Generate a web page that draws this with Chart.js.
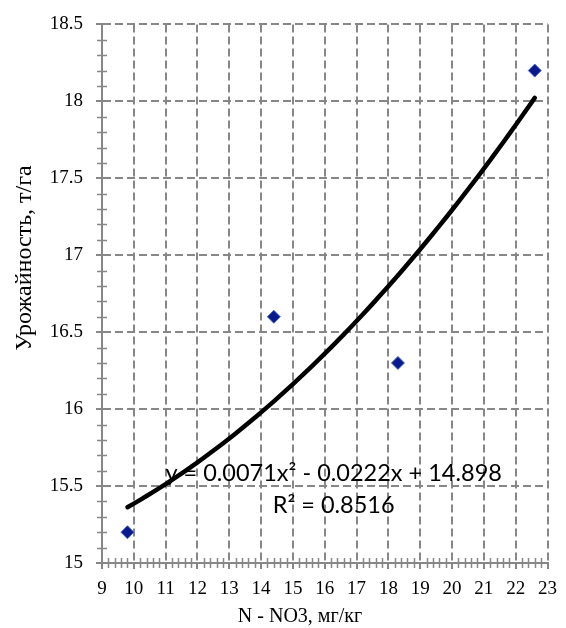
<!DOCTYPE html>
<html>
<head>
<meta charset="utf-8">
<script src="https://cdn.jsdelivr.net/npm/chart.js@4/dist/chart.umd.min.js"></script>
<style>
html, body { margin: 0; padding: 0; background: #fff; }
#wrap { width: 566px; height: 628px; }
</style>
</head>
<body>
<div id="wrap"><canvas id="chart" width="566" height="628"></canvas></div>
<script>
// measured points: nitrate content vs. yield
var nitrate = [9.8, 14.4, 18.3, 22.6];
var yieldT = [15.2, 16.6, 16.3, 18.2];
// polynomial trend, order 2: a*x^2 + b*x + c
var trendCoef = [0.0071, -0.0222, 14.898];
var trendText = ['y = 0.0071x² - 0.0222x + 14.898', 'R² = 0.8516'];
var xTitle = 'N - NO3, мг/кг';
var yTitle = 'Урожайность, т/га';

var gridColor = '#878787';
var serif = '"Liberation Serif", serif';

Chart.defaults.font.family = serif;
Chart.defaults.font.size = 19;
Chart.defaults.color = '#000';

// trend curve over the measured range
var trend = [];
var x0 = Math.min.apply(null, nitrate), x1 = Math.max.apply(null, nitrate);
for (var i = 0; i <= 64; i++) {
    var x = x0 + (x1 - x0) * i / 64;
    trend.push({x: x, y: trendCoef[0] * x * x + trendCoef[1] * x + trendCoef[2]});
}
var points = nitrate.map(function(v, k){ return {x: v, y: yieldT[k]}; });

// small cross ticks between the major ones, axis titles and the trend equation
var extras = {
    id: 'extras',
    afterDraw: function(chart){
        var ctx = chart.ctx, xs = chart.scales.x, ys = chart.scales.y, a = chart.chartArea;
        ctx.save();
        ctx.strokeStyle = gridColor;
        ctx.lineWidth = 1.5;
        ctx.beginPath();
        for (var v = 15; v < 18.5; v += 0.1) {
            if (Math.abs(v * 2 - Math.round(v * 2)) < 0.01) continue;
            var py = Math.round(ys.getPixelForValue(v)) + 0.5;
            ctx.moveTo(a.left - 5, py); ctx.lineTo(a.left + 5, py);
        }
        for (var u = 9; u < 23; u += 0.2) {
            if (Math.abs(u - Math.round(u)) < 0.01) continue;
            var px = Math.round(xs.getPixelForValue(u)) + 0.5;
            ctx.moveTo(px, a.bottom - 5); ctx.lineTo(px, a.bottom + 5);
        }
        ctx.stroke();

        ctx.fillStyle = '#000';
        ctx.textAlign = 'center';
        ctx.textBaseline = 'middle';
        ctx.font = '23.5px Lato, "Open Sans", sans-serif';
        var cx = xs.getPixelForValue(16.28);
        ctx.fillText(trendText[0], cx, ys.getPixelForValue(15.58));
        ctx.fillText(trendText[1], cx, ys.getPixelForValue(15.375));

        ctx.font = '20px ' + serif;
        ctx.fillText(xTitle, 300, 617);

        ctx.translate(25, 258);
        ctx.rotate(-Math.PI / 2);
        ctx.font = '24px ' + serif;
        ctx.fillText(yTitle, 0, 0);
        ctx.restore();
    }
};

var chart = new Chart(document.getElementById('chart').getContext('2d'), {
    type: 'scatter',
    data: {
        datasets: [{
            data: points,
            pointStyle: 'rectRot',
            pointRadius: 6.5,
            backgroundColor: '#0a1a8c',
            borderColor: '#4a64c8',
            borderWidth: 1,
            order: 1
        }, {
            data: trend,
            showLine: true,
            pointRadius: 0,
            borderColor: '#000',
            borderWidth: 4.5,
            borderCapStyle: 'round',
            borderJoinStyle: 'round',
            tension: 0,
            order: 2
        }]
    },
    options: {
        responsive: false,
        animation: false,
        devicePixelRatio: 1,
        layout: { padding: { left: 0, right: 10, top: 19, bottom: 0 } },
        plugins: { legend: { display: false }, tooltip: { enabled: false } },
        scales: {
            x: {
                type: 'linear',
                min: 9, max: 23,
                afterFit: function(s){ s.height = 65; },
                ticks: { stepSize: 1, padding: 9, color: '#000', font: { family: serif, size: 19 },
                    callback: function(v){ return String(v); } },
                grid: { color: gridColor, lineWidth: 2, tickLength: 6, tickColor: gridColor, tickWidth: 2 },
                border: { color: gridColor, width: 2, dash: [8, 4] }
            },
            y: {
                min: 15, max: 18.5,
                afterFit: function(s){ s.width = 102; },
                ticks: { stepSize: 0.5, padding: 13, color: '#000', font: { family: serif, size: 19 },
                    callback: function(v){ return String(v); } },
                grid: { color: gridColor, lineWidth: 2, tickLength: 6, tickColor: gridColor, tickWidth: 2 },
                border: { color: gridColor, width: 2, dash: [8, 4] }
            }
        }
    },
    plugins: [extras]
});
</script>
</body>
</html>
